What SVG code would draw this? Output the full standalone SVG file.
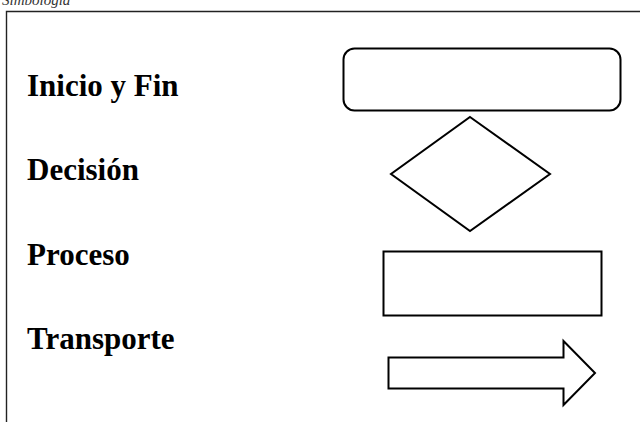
<svg xmlns="http://www.w3.org/2000/svg" width="640" height="422" viewBox="0 0 640 422">
  <style>
    .label { font-family: "Liberation Serif", "Times New Roman", serif; font-weight: bold; font-size: 31px; fill: #000; }
    .caption { font-family: "Liberation Serif", "Times New Roman", serif; font-style: italic; font-size: 15px; fill: #333; }
    .shape { fill: #fff; stroke: #000; stroke-width: 2; stroke-linejoin: miter; }
    .frame { fill: none; stroke: #222; stroke-width: 1.4; }
  </style>
  <rect width="640" height="422" fill="#fff"/>

  <!-- caption above the frame -->
  <text class="caption" x="2" y="5">Simbología</text>

  <!-- frame: top and left edges -->
  <path class="frame" d="M6.5 422 V11.5 H640"/>

  <!-- labels -->
  <g id="labels">
    <text class="label" x="27" y="96">Inicio y Fin</text>
    <text class="label" x="27" y="180">Decisión</text>
    <text class="label" x="27" y="265">Proceso</text>
    <text class="label" x="27" y="349">Transporte</text>
  </g>

  <!-- symbols -->
  <g id="inicio-fin">
    <rect class="shape" x="343.5" y="48.5" width="277" height="62" rx="11" ry="11"/>
  </g>
  <g id="decision">
    <polygon class="shape" points="470,117 550,174 470,231 391,174"/>
  </g>
  <g id="proceso">
    <rect class="shape" x="383.5" y="251.5" width="218" height="64"/>
  </g>
  <g id="transporte">
    <polygon class="shape" points="388.5,357.5 563.5,357.5 563.5,341 595,373 563.5,405 563.5,388.5 388.5,388.5"/>
  </g>
</svg>
